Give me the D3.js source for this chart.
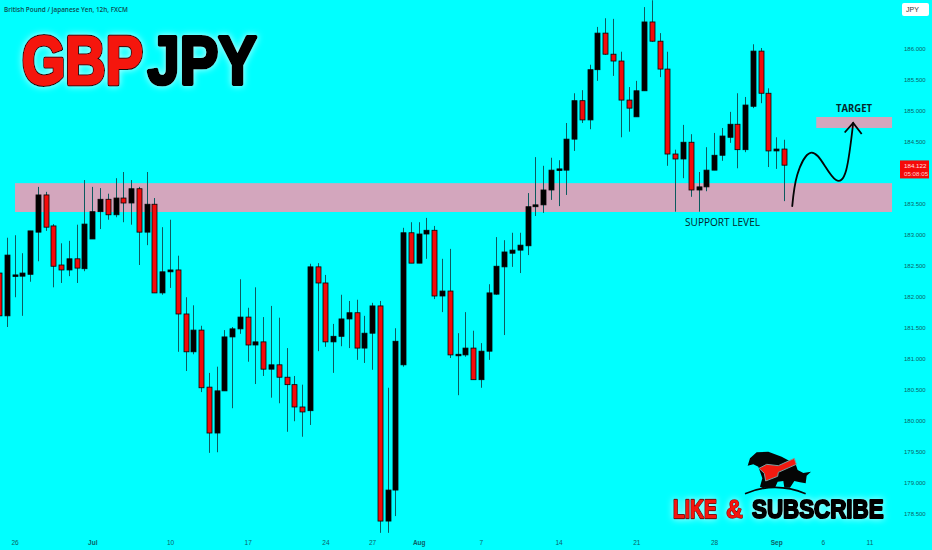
<!DOCTYPE html>
<html><head><meta charset="utf-8">
<script src="https://cdn.jsdelivr.net/npm/d3@7"></script>
<style>html,body{margin:0;padding:0;background:#00ffff;overflow:hidden}svg{display:block}</style>
</head><body><div id="chart"></div>
<script>
const opens=[182.37,181.68,182.32,182.32,182.35,183.03,183.63,183.13,182.50,182.42,182.60,182.44,182.92,183.36,183.56,183.31,183.58,183.50,183.73,183.03,183.48,182.05,182.39,182.42,181.71,181.10,181.45,180.53,179.79,180.47,181.34,181.47,181.66,181.21,181.26,180.82,180.89,180.69,180.57,180.21,180.15,182.47,182.21,181.26,181.35,181.63,181.73,181.16,181.40,181.84,178.37,178.87,180.89,183.02,182.53,183.00,183.06,182.00,182.08,181.05,181.05,181.16,180.65,181.11,182.03,182.47,182.69,182.74,182.81,183.44,183.47,183.71,184.03,184.03,184.53,185.15,184.84,185.65,186.24,185.90,185.79,185.16,184.89,185.31,186.42,186.11,185.66,184.29,184.21,184.48,183.71,183.76,184.03,184.27,184.56,184.77,184.36,185.06,185.95,185.27,184.34,184.37];
const highs=[182.45,182.94,182.98,182.69,183.05,183.76,183.68,183.16,182.85,182.89,183.15,183.87,183.76,183.74,183.65,183.90,184.00,183.87,183.76,184.00,183.58,183.11,183.23,182.65,181.98,181.85,181.52,180.76,180.86,181.45,181.50,182.27,181.81,182.14,181.66,181.84,181.65,181.16,180.71,180.57,182.52,182.53,182.34,181.55,182.02,181.92,181.94,181.68,181.89,181.92,180.52,181.48,183.10,183.19,183.19,183.26,183.13,182.60,182.76,181.40,181.74,181.44,181.24,182.19,182.95,182.90,183.02,183.02,183.66,184.24,184.10,184.23,184.19,184.79,185.27,185.32,185.73,186.34,186.48,186.47,185.94,185.37,185.47,186.66,186.77,186.24,185.94,184.36,184.76,184.61,184.00,184.40,184.63,184.71,184.97,185.27,185.21,186.06,186.00,185.35,184.56,184.52];
const lows=[181.65,181.50,181.98,181.68,182.23,182.56,183.05,182.14,182.21,182.32,182.21,182.40,182.92,183.08,183.23,183.27,183.19,183.15,182.50,182.82,182.05,182.02,182.13,181.10,180.79,181.06,180.45,179.47,179.48,180.47,180.19,181.39,180.94,180.58,180.71,180.36,180.27,179.81,179.98,179.73,179.92,181.11,181.18,180.76,181.19,181.16,180.97,180.92,180.81,178.18,178.18,178.45,180.86,182.53,182.53,182.60,181.95,181.74,181.00,180.40,181.02,180.65,180.52,180.97,182.02,181.37,182.47,182.37,182.66,183.29,183.34,183.55,183.45,183.63,184.34,184.79,184.69,185.47,185.89,185.55,184.56,184.65,184.89,185.31,186.10,185.53,184.10,183.36,183.90,183.60,183.36,183.69,184.03,184.18,184.47,184.06,184.32,185.03,185.11,184.08,184.05,183.53];
const closes=[181.68,182.66,182.34,182.37,183.05,183.63,183.11,182.48,182.42,182.60,182.45,183.16,183.36,183.56,183.31,183.58,183.50,183.73,183.03,183.48,182.05,182.39,182.42,181.71,181.10,181.45,180.52,179.79,180.47,181.34,181.47,181.66,181.21,181.26,180.82,180.89,180.69,180.57,180.21,180.13,182.47,182.21,181.26,181.35,181.63,181.73,181.16,181.40,181.84,178.37,178.87,181.27,183.02,182.53,183.00,183.06,182.00,182.08,181.05,181.06,181.16,180.65,181.11,182.05,182.48,182.71,182.74,182.82,183.44,183.47,183.71,184.03,184.05,184.53,185.15,184.84,185.65,186.24,185.90,185.79,185.16,185.03,185.31,186.42,186.11,185.66,184.29,184.21,184.48,183.71,183.76,184.03,184.27,184.58,184.77,184.36,185.08,185.95,185.27,184.34,184.37,184.11];
const priceTicks=[178.5,179,179.5,180,180.5,181,181.5,182,182.5,183,183.5,184.5,185,185.5,186];
const timeLabels=["26","Jul","10","17","24","27","Aug","7","14","21","28","Sep","6","11"];
const timeIndex=[2,12,22,32,42,48,54,62,72,82,92,100,106,112];
const boldLabels=["Jul","Aug","Sep"];
const supportZone=[183.355,183.82];
const targetZone=[184.71,184.887];
const zoneIndex=[2.06,114.9];
const targetIndex=[105.15,114.9];
const pathIndex=[102.06,102.7,104.4,106.2,107.7,109.0,109.9];
const pathPrice=[183.45,183.95,184.31,184.11,183.87,184.03,184.79];
const lastPrice=184.122;

const W=932,H=550;
const x=d3.scaleLinear().domain([0,101]).range([-1,784]);
const y=d3.scaleLinear().domain([186,178.5]).range([48,513]);
const svg=d3.select("#chart").append("svg").attr("width",W).attr("height",H);
const defs=svg.append("defs");
const glow=defs.append("filter").attr("id","glow").attr("x","-10%").attr("y","-30%").attr("width","120%").attr("height","160%");
glow.append("feDropShadow").attr("dx",0).attr("dy",0).attr("stdDeviation",3.5).attr("flood-color","#c8ffff").attr("flood-opacity",0.95);
svg.append("rect").attr("width",W).attr("height",H).attr("fill","#00ffff");

const zoneFill="#d3a6bd";
svg.append("rect").attr("x",x(zoneIndex[0])).attr("width",x(zoneIndex[1])-x(zoneIndex[0]))
  .attr("y",y(supportZone[1])).attr("height",y(supportZone[0])-y(supportZone[1])).attr("fill",zoneFill);
svg.append("rect").attr("x",x(targetIndex[0])).attr("width",x(targetIndex[1])-x(targetIndex[0]))
  .attr("y",y(targetZone[1])).attr("height",y(targetZone[0])-y(targetZone[1])).attr("fill",zoneFill);

const candles=d3.range(opens.length);
const g=svg.append("g");
g.selectAll("line.w").data(candles).join("line").attr("class","w")
  .attr("x1",i=>Math.round(x(i))+.5).attr("x2",i=>Math.round(x(i))+.5)
  .attr("y1",i=>y(highs[i])).attr("y2",i=>y(lows[i]))
  .attr("stroke","#0c5a5e").attr("stroke-width",1);
g.selectAll("rect.b").data(candles).join("rect").attr("class","b")
  .attr("x",i=>Math.round(x(i))-2).attr("width",5)
  .attr("y",i=>y(Math.max(opens[i],closes[i])))
  .attr("height",i=>Math.max(1.5,Math.abs(y(opens[i])-y(closes[i]))))
  .attr("fill",i=>closes[i]<opens[i]?"#f50a0a":"#000")
  .attr("stroke","#050505").attr("stroke-width",.8);

// Right price axis
const axisColor="#0e5f66";
const yAxis=d3.axisRight(y).tickValues(priceTicks).tickFormat(d3.format(".3f")).tickSize(0).tickPadding(0);
const ya=svg.append("g").attr("transform","translate(904,0)").call(yAxis);
ya.select(".domain").remove();
ya.selectAll("text").attr("fill",axisColor).attr("font-family","Liberation Sans").attr("font-size",6).attr("dy","0.34em");

// Bottom time axis
const xAxis=d3.axisBottom(x).tickValues(timeIndex).tickFormat((d,i)=>timeLabels[i]).tickSize(0).tickPadding(0);
const xa=svg.append("g").attr("transform","translate(0,538)").call(xAxis);
xa.select(".domain").remove();
xa.selectAll("text").attr("fill",axisColor).attr("dy",0).attr("y",6.5).attr("font-family","Liberation Sans").attr("font-size",6.5)
  .attr("font-weight",(d,i)=>boldLabels.includes(timeLabels[i])?"bold":"normal");

// Symbol box and last price tag
svg.append("rect").attr("x",902).attr("y",3).attr("width",27).attr("height",13).attr("rx",2).attr("fill","#fff");
svg.append("text").attr("x",906).attr("y",12).attr("font-family","Liberation Sans").attr("font-size",7).attr("fill","#333").text("JPY");
svg.append("rect").attr("x",900).attr("y",y(lastPrice)-4).attr("width",29).attr("height",18).attr("fill","#f50a0a");
svg.append("text").attr("x",904).attr("y",y(lastPrice)+3.5).attr("font-family","Liberation Sans").attr("font-size",6.2).attr("fill","#ffe0e0").text(d3.format(".3f")(lastPrice));
svg.append("text").attr("x",904).attr("y",y(lastPrice)+11.5).attr("font-family","Liberation Sans").attr("font-size",6.2).attr("fill","#ffd0d0").text("05:08:05");

// Header
svg.append("text").attr("x",4).attr("y",12).attr("font-family","Open Sans").attr("font-weight",600).attr("font-size",6.8)
  .attr("fill","#0d4a50").attr("textLength",124).attr("lengthAdjust","spacingAndGlyphs").text("British Pound / Japanese Yen, 12h, FXCM");

// Stretched bold label: black outline under a coloured fill, drawn through a horizontal scale
function heavy(parent,str,tx,ty,sx,size,fill,outer,inner){
  const t=parent.append("g").attr("transform",`translate(${tx},${ty}) scale(${sx},1)`)
    .attr("font-family","Liberation Sans").attr("font-weight","bold").attr("font-size",size).attr("stroke-linejoin","round");
  t.append("text").attr("fill",fill).attr("stroke",outer[0]).attr("stroke-width",outer[1]).text(str);
  t.append("text").attr("fill",fill).attr("stroke",fill).attr("stroke-width",inner).attr("aria-hidden","true").text(str);
}
const tg=svg.append("g").attr("filter","url(#glow)");
heavy(tg,"GBP",22,84,0.82,68,"#f5130f",["#0a0a0a",5],3);
heavy(tg,"JPY",147.5,84,0.85,68,"#050505",["#050505",4],3);

// Annotations
svg.append("text").attr("x",685).attr("y",226).attr("font-family","Open Sans").attr("font-size",11).attr("fill","#06262a")
  .attr("textLength",75).attr("lengthAdjust","spacingAndGlyphs").text("SUPPORT LEVEL");
svg.append("text").attr("x",836).attr("y",112).attr("font-family","Open Sans").attr("font-weight",700).attr("font-size",11).attr("fill","#06262a")
  .attr("textLength",36).attr("lengthAdjust","spacingAndGlyphs").text("TARGET");
const curve=d3.line().x(i=>x(pathIndex[i])).y(i=>y(pathPrice[i])).curve(d3.curveNatural);
svg.append("path").attr("d",curve(d3.range(pathIndex.length))).attr("fill","none").attr("stroke","#050505").attr("stroke-width",1.8).attr("stroke-linecap","round");
const tipX=x(pathIndex[6]),tipY=y(pathPrice[6]);
svg.append("path").attr("d",`M${tipX-8.5},${tipY+9.5}L${tipX},${tipY}L${tipX+8.5},${tipY+11}`).attr("fill","none").attr("stroke","#050505").attr("stroke-width",1.8);

// Logo
const logo=svg.append("g").attr("transform","translate(735,445) scale(0.3333)");
logo.append("path").attr("d","M38 62L45 40L65 22L100 20L140 35L168 50L170 60L125 78L105 88L98 118L85 130L75 125L82 100L70 65L55 58Z").attr("fill","#050505");
logo.append("path").attr("d","M85 128L95 105L125 78L180 52L188 75L205 84L228 80L215 92L212 115L195 112L178 108L165 128L148 128L145 108L128 110L120 128Z").attr("fill","#050505");
logo.append("path").attr("d","M72 70L95 58L130 62L178 40L184 58L130 82L128 94L92 108L88 85Z").attr("fill","#f21a10").attr("stroke","#7aa0a0").attr("stroke-width",3);
logo.append("path").attr("d","M30 146Q120 108 212 146").attr("fill","none").attr("stroke","#050505").attr("stroke-width",5);

// Like & subscribe
const ls=svg.append("g").attr("filter","url(#glow)");
heavy(ls,"LIKE",673,518,0.74,26,"#f5130f",["#0a0a0a",2.4],1.2);
heavy(ls,"&",726,518,0.9,26,"#f5130f",["#0a0a0a",1.6],0.8);
heavy(ls,"SUBSCRIBE",752,518,0.86,26,"#050505",["#050505",2.2],1.5);
</script></body></html>
